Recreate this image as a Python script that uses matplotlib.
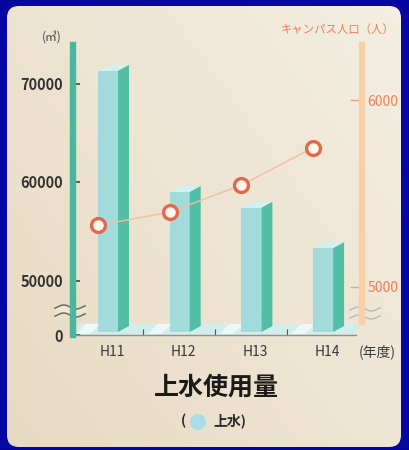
import matplotlib
matplotlib.use("Agg")
import matplotlib.pyplot as plt
import numpy as np
from matplotlib.patches import Rectangle, Polygon, FancyBboxPatch, Circle

plt.rcParams['font.family'] = ['Noto Sans CJK JP', 'DejaVu Sans']

# data
years = ['H11', 'H12', 'H13', 'H14']
water_use = [71300, 59000, 57400, 53300]      # m3
population = [5330, 5400, 5545, 5745]         # people
left_ticks = [50000, 60000, 70000]
right_ticks = [5000, 6000]

# colours
navy = '#0606a0'
front_c = '#a3dbdc'
side_c = '#52bea6'
top_c = '#d5f0ee'
teal = '#49b79c'
orange_axis = '#f8cfa6'
orange_txt = '#ee7e5c'
ring_c = '#e2694a'

W, H = 410, 450
fig = plt.figure(figsize=(W / 100, H / 100), dpi=100)
fig.patch.set_facecolor(navy)

# background panel in pixel coordinates
bg = fig.add_axes([0, 0, 1, 1])
bg.set_xlim(0, W)
bg.set_ylim(H, 0)
bg.axis('off')
gx, gy = np.meshgrid(np.linspace(0, 1, 200), np.linspace(0, 1, 200))
t = np.clip(0.55 * gx + 0.45 * (1 - gy), 0, 1)
light = np.array([0.955, 0.935, 0.885])
dark = np.array([0.905, 0.855, 0.76])
grad = dark[None, None, :] * (1 - t[..., None]) + light[None, None, :] * t[..., None]
panel = FancyBboxPatch((7, 6), 394, 441, boxstyle='round,pad=0,rounding_size=12',
                       transform=bg.transData, facecolor='none', edgecolor='none')
bg.add_patch(panel)
im = bg.imshow(grad, extent=(7, 401, 447, 6), aspect='auto', zorder=0)
im.set_clip_path(panel)

# main axes
x0, x1, yb, yt = 73, 362, 335, 45
ax = fig.add_axes([x0 / W, (H - yb) / H, (x1 - x0) / W, (yb - yt) / H])
ax.patch.set_alpha(0)

px_per_unit_x = 71.7
xmin = -(98 - x0) / px_per_unit_x
xmax = (x1 - 98) / px_per_unit_x
ax.set_xlim(xmin, xmax)

px_per_10k = 98.5
y70 = 83.5
ybot = 70000 - (yb - y70) / px_per_10k * 10000
ytop = 70000 + (y70 - yt) / px_per_10k * 10000
ax.set_ylim(ybot, ytop)

u_y = 10000 / px_per_10k          # one pixel in y data units
u_x = 1 / px_per_unit_x           # one pixel in x data units
bw = 20 * u_x
dx, dy = 11 * u_x, 6 * u_y

# floor
floor = Polygon([(xmin, ybot), (xmax - 8 * u_x, ybot), (xmax - 2 * u_x, ybot + 12 * u_y),
                 (xmin + 6 * u_x, ybot + 12 * u_y)], closed=True,
                facecolor='#d3ecec', edgecolor='none', zorder=1)
ax.add_patch(floor)
for i in range(len(years)):
    ax.add_patch(Polygon([(i - 22 * u_x, ybot + 1 * u_y), (i - 8 * u_x, ybot + 1 * u_y),
                          (i + 2 * u_x, ybot + 11 * u_y), (i - 12 * u_x, ybot + 11 * u_y)],
                         closed=True, facecolor='#eef8f8', edgecolor='none', zorder=1))

# 3d bars
for i, v in enumerate(water_use):
    base = ybot + 3 * u_y
    ax.add_patch(Rectangle((i, base), bw, v - base, facecolor=front_c, edgecolor='none', zorder=3))
    ax.add_patch(Polygon([(i + bw, base), (i + bw + dx, base + dy), (i + bw + dx, v + dy), (i + bw, v)],
                         closed=True, facecolor=side_c, edgecolor='none', zorder=3))
    ax.add_patch(Polygon([(i, v), (i + bw, v), (i + bw + dx, v + dy), (i + dx, v + dy)],
                         closed=True, facecolor=top_c, edgecolor='none', zorder=3))

# left axis
ax.spines['top'].set_visible(False)
ax.spines['right'].set_visible(False)
ax.spines['left'].set_color(teal)
ax.spines['left'].set_linewidth(4.6)
ax.spines['left'].set_zorder(4)
ax.spines['bottom'].set_color('#8f8f8f')
ax.spines['bottom'].set_linewidth(1)
ax.spines['bottom'].set_bounds(xmin, xmax - 6 * u_x)
ax.set_yticks([ybot] + left_ticks, ['0'] + [str(v) for v in left_ticks])
ax.tick_params(axis='y', direction='in', length=5, width=1.2, color='#444444',
               labelsize=10.5, labelcolor='#333333', pad=7)
for lab in ax.get_yticklabels():
    lab.set_fontweight('bold')
ax.set_xticks([i + bw / 2 + 4 * u_x for i in range(len(years))], years)
ax.set_xticks([i + 0.63 for i in range(len(years) - 1)], minor=True)
ax.tick_params(axis='x', which='major', length=0, labelsize=10, labelcolor='#3a3a3a', pad=7)
ax.tick_params(axis='x', which='minor', direction='in', length=4, width=0.8, color='#555555')

# right axis: population
ax2 = ax.twinx()
ax2.set_ylim(5000 - (yb - 287) / 187 * 1000, 6000 + (100 - yt) / 187 * 1000)
for s in ['top', 'left', 'bottom']:
    ax2.spines[s].set_visible(False)
ax2.spines['right'].set_color(orange_axis)
ax2.spines['right'].set_linewidth(4.6)
ax2.spines['right'].set_bounds(ax2.get_ylim()[0] + 13 * 1000 / 187, ax2.get_ylim()[1])
ax2.set_yticks(right_ticks, [str(v) for v in right_ticks])
ax2.tick_params(axis='y', direction='in', length=9, width=1, color='#f2a27f',
                labelsize=10, labelcolor=orange_txt, pad=4)
ax2.plot(range(len(years)), population, color='#f4bca4', lw=1, zorder=5)
ax2.plot(range(len(years)), population, 'o', ms=10, mfc='#fff4ee', mec=ring_c, mew=2.4, zorder=6)

# axis captions
bg.text(52, 37, '(㎥)', fontsize=8.5, color='#444444', ha='center', va='center', zorder=5)
bg.text(338, 29, 'キャンパス人口（人）', fontsize=8.2, color=orange_txt, ha='center', va='center', zorder=5)
bg.text(377, 352, '(年度)', fontsize=10, color='#3a3a3a', ha='center', va='center', zorder=5)

# axis break marks
for bx, by, col in [(70, 311, '#6a6a6a'), (365, 313, '#bdbdbd')]:
    ss = np.linspace(-15, 15, 40)
    bg.fill_between(ss + bx, by - 5 + 2 * np.sin(ss / 4), by + 5 + 2 * np.sin(ss / 4),
                    color='#efe7d6', zorder=6, lw=0)
    for off in (-4, 4):
        bg.plot(ss + bx, by + off + 2 * np.sin(ss / 4), color=col, lw=1.1, zorder=7)

# title and legend
bg.text(216, 388, '上水使用量', fontsize=18, fontweight='bold', color='#1a1a1a',
        ha='center', va='center', zorder=5)
bg.text(183, 421, '(', fontsize=10, fontweight='bold', color='#2a2a2a', ha='center', va='center', zorder=5)
bg.add_patch(Circle((198, 422), 8, facecolor='#a9dde6', edgecolor='none', zorder=5))
bg.text(230, 421, '上水)', fontsize=10, fontweight='bold', color='#2a2a2a', ha='center', va='center', zorder=5)

fig.savefig('out.png', dpi=100, facecolor=fig.get_facecolor())
